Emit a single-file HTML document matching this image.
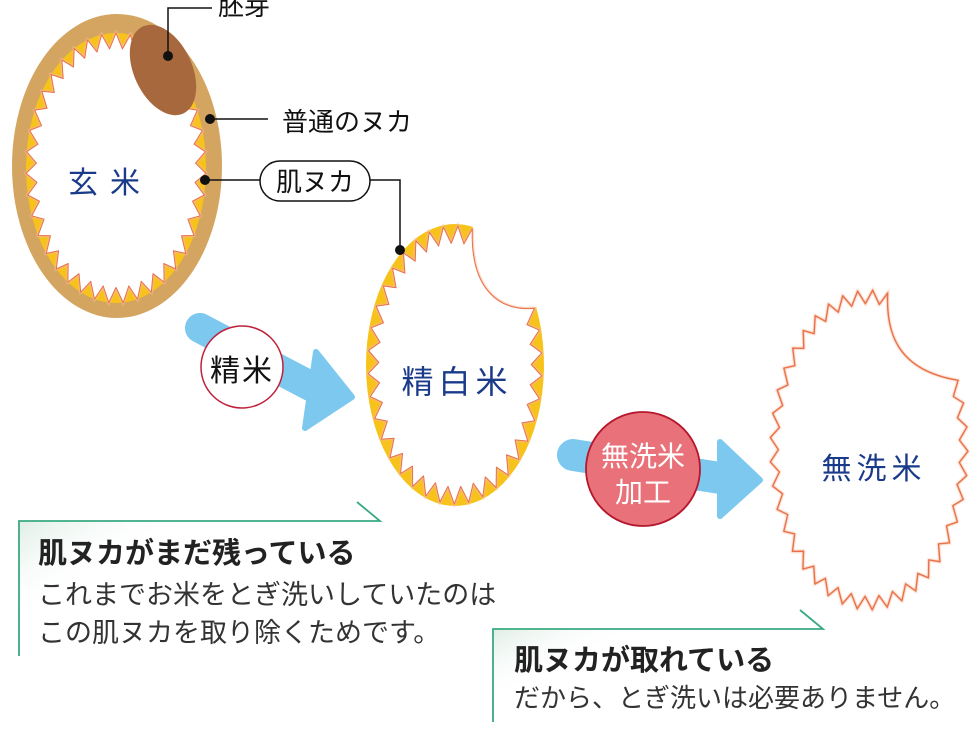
<!DOCTYPE html>
<html><head><meta charset="utf-8">
<style>
html,body{margin:0;padding:0;background:#fff;}
svg{display:block;}
text{font-family:"Liberation Sans","Noto Sans CJK JP",sans-serif;}
</style></head>
<body>
<svg id="s" width="975" height="732" viewBox="0 0 975 732" xmlns="http://www.w3.org/2000/svg">
<defs>
<linearGradient id="g1" x1="0" y1="0" x2="1" y2="0.6">
<stop offset="0" stop-color="#dfeee6"/><stop offset="0.35" stop-color="#fff" stop-opacity="0"/>
</linearGradient>
<filter id="glow" x="-10%" y="-10%" width="120%" height="120%"><feGaussianBlur stdDeviation="0.8"/></filter>
</defs>
<g id="shapes"></g>
<!-- arrows -->
<line x1="200" y1="328" x2="318" y2="390" stroke="#7cc8ef" stroke-width="30" stroke-linecap="round"/>
<polygon points="316,352 352,397 305,428" fill="#7cc8ef" stroke="#7cc8ef" stroke-width="6" stroke-linejoin="round"/>
<circle cx="242" cy="367" r="41" fill="#fff" stroke="#c0203a" stroke-width="1.5"/>
<text x="242" y="381" font-size="30" text-anchor="middle" fill="#111" letter-spacing="2">精米</text>

<line x1="573" y1="455" x2="720" y2="478" stroke="#7cc8ef" stroke-width="32" stroke-linecap="round"/>
<polygon points="720,442 760,480 720,516" fill="#7cc8ef" stroke="#7cc8ef" stroke-width="6" stroke-linejoin="round"/>
<circle cx="643" cy="469" r="57" fill="#e9727a" stroke="#b5172d" stroke-width="1.8"/>
<text x="643" y="466" font-size="28" text-anchor="middle" fill="#fff">無洗米</text>
<text x="643" y="502" font-size="28" text-anchor="middle" fill="#fff">加工</text>

<!-- labels -->
<polyline points="168,56 168,8 212,8" fill="none" stroke="#111" stroke-width="1.5"/>
<circle cx="168" cy="56" r="5" fill="#111"/>
<text x="218" y="15" font-size="26" fill="#111">胚芽</text>
<line x1="210" y1="119" x2="268" y2="119" stroke="#111" stroke-width="1.5"/>
<circle cx="210" cy="119" r="5" fill="#111"/>
<text x="282" y="131" font-size="26" fill="#111">普通のヌカ</text>
<line x1="205" y1="180" x2="260" y2="180" stroke="#111" stroke-width="1.5"/>
<circle cx="205" cy="180" r="5" fill="#111"/>
<rect x="260" y="161" width="110" height="40" rx="20" fill="#fff" stroke="#111" stroke-width="1.5"/>
<text x="315" y="191" font-size="26" text-anchor="middle" fill="#111">肌ヌカ</text>
<polyline points="370,180 400,180 400,250" fill="none" stroke="#111" stroke-width="1.5"/>
<circle cx="400" cy="250" r="5" fill="#111"/>

<text x="110" y="193" font-size="30" text-anchor="middle" fill="#1a3a8a" letter-spacing="12">玄米</text>
<text x="457" y="393" font-size="32" text-anchor="middle" fill="#1a3a8a" letter-spacing="5">精白米</text>
<text x="874" y="479" font-size="30" text-anchor="middle" fill="#1a3a8a" letter-spacing="5">無洗米</text>

<!-- callouts -->
<rect x="20" y="521" width="360" height="134" fill="url(#g1)"/>
<polyline points="19,656 19,521 380,521 357,502" fill="none" stroke="#3aaa80" stroke-width="1.8"/>
<text x="38" y="563" font-size="29" font-weight="bold" fill="#222">肌ヌカがまだ残っている</text>
<text x="38" y="604" font-size="27" fill="#333">これまでお米をとぎ洗いしていたのは</text>
<text x="38" y="642" font-size="27" fill="#333">この肌ヌカを取り除くためです。</text>

<rect x="494" y="629" width="328" height="95" fill="url(#g1)"/>
<polyline points="493,722 493,629 823,629 800,610" fill="none" stroke="#3aaa80" stroke-width="1.8"/>
<text x="514" y="670" font-size="29" font-weight="bold" fill="#222">肌ヌカが取れている</text>
<text x="514" y="707" font-size="26" fill="#333">だから、とぎ洗いは必要ありません。</text>
</svg>
<script>
(function(){
var NS="http://www.w3.org/2000/svg",g=document.getElementById("shapes");
function P(cx,cy,rx,ry,t,k){return [cx+rx*k*Math.sin(t),cy-ry*k*Math.cos(t)];}
function zig(cx,cy,rx,ry,t0,t1,n,d){var a=[];for(var i=0;i<=n;i++){var t=t0+(t1-t0)*i/n;var k=(i%2==0)?1:1-d/((rx+ry)/2);a.push(P(cx,cy,rx,ry,t,k));}return a;}
function arc(cx,cy,rx,ry,t0,t1,n){var a=[];for(var i=0;i<=n;i++){a.push(P(cx,cy,rx,ry,t0+(t1-t0)*i/n,1));}return a;}
function pts(a){return a.map(function(p){return p[0].toFixed(1)+","+p[1].toFixed(1);}).join(" L");}
function add(tag,attrs){var e=document.createElementNS(NS,tag);for(var k in attrs)e.setAttribute(k,attrs[k]);g.appendChild(e);return e;}
var T=Math.PI*2;
// brown rice
add("ellipse",{cx:117,cy:166,rx:105,ry:152,fill:"#d4a560"});
add("ellipse",{cx:116,cy:168,rx:90,ry:135,fill:"#f7c31a"});
var z=zig(116,168,90,135,0,T,78,13);
add("path",{d:"M"+pts(z)+"Z",fill:"#fff",stroke:"#f6b89a","stroke-width":2.5,filter:"url(#glow)"});
add("path",{d:"M"+pts(z)+"Z",fill:"#fff",stroke:"#e8704a","stroke-width":1,"stroke-linejoin":"round"});
add("ellipse",{cx:163,cy:70,rx:29,ry:48,fill:"#a8683d",transform:"rotate(-25 163 70)"});
// polished rice
var cx=455,cy=365,rx=89,ry=141,a0=1.15,a1=T+0.2;
var outer=arc(cx,cy,rx,ry,a0,a1,60);
var bite="C470,290 500,312 "+P(cx,cy,rx,ry,a0,1).map(function(v){return v.toFixed(1)}).join(",");
add("path",{d:"M"+pts(outer)+" "+bite+"Z",fill:"#f7c31a"});
var z2=zig(cx,cy,rx-2,ry-2,a0,a1,64,14);
var d2="M"+pts(z2)+" C470,290 500,312 "+z2[0][0].toFixed(1)+","+z2[0][1].toFixed(1)+"Z";
add("path",{d:d2,fill:"#fff",stroke:"#f6b89a","stroke-width":2.5,filter:"url(#glow)"});
add("path",{d:d2,fill:"#fff",stroke:"#e8704a","stroke-width":1,"stroke-linejoin":"round"});
// musenmai
cx=869;cy=450;rx=99;ry=160;a0=1.12;a1=T+0.19;
var z3=zig(cx,cy,rx,ry,a0,a1,70,11);
var d3="M"+pts(z3)+" C886,330 895,370 "+z3[0][0].toFixed(1)+","+z3[0][1].toFixed(1)+"Z";
add("path",{d:d3,fill:"none",stroke:"#f8c0a5","stroke-width":2.5,filter:"url(#glow)"});
add("path",{d:d3,fill:"none",stroke:"#e8704a","stroke-width":1.3,"stroke-linejoin":"round"});
})();
</script>
</body></html>
